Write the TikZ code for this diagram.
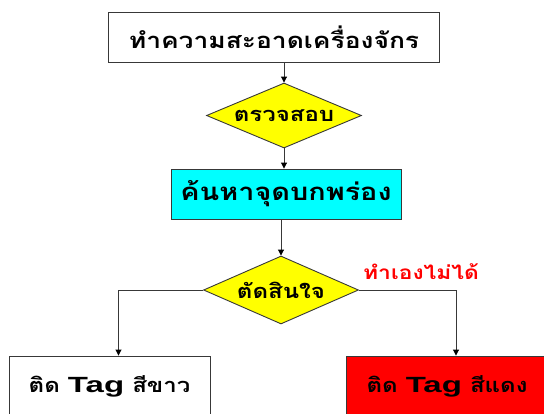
\documentclass[tikz,border=0pt]{standalone}
\usepackage{fontspec}
\usetikzlibrary{shapes.geometric,arrows.meta}
\newfontfamily\thai[Script=Thai,FakeStretch=1.2]{Loma}
\newfontfamily\tagfont[FakeStretch=1.5]{Liberation Sans}
\definecolor{edge}{HTML}{383838}
\definecolor{yel}{HTML}{FFFF00}
\definecolor{aqua}{HTML}{00FFFF}
\definecolor{rd}{HTML}{FF0000}
\tikzset{
  boxnode/.style={draw=edge, line width=0.9pt, rectangle, inner sep=0pt, font=\thai\bfseries\fontsize{22}{26}\selectfont},
  dianode/.style={draw=edge, line width=0.9pt, diamond, fill=yel, inner sep=0pt,
     label={[font=\thai\bfseries\fontsize{20}{24}\selectfont]center:#1}},
  conn/.style={draw=edge, line width=0.9pt, -{Triangle[length=6pt,width=6pt,color=black]}},
  bottomtext/.style={font=\thai\bfseries\fontsize{20}{24}\selectfont}
}
\begin{document}
\begin{tikzpicture}[x=1pt,y=-1pt]
\useasboundingbox (0,0) rectangle (544,413);
\clip (0,0) rectangle (544,413);
\node[boxnode, fill=white, minimum width=331pt, minimum height=50pt, font=\thai\bfseries\fontsize{22}{26}\selectfont] (clean) at (274,37) {ทำความสะอาดเครื่องจักร};
\node[dianode={ตรวจสอบ}, minimum width=155pt, minimum height=65pt] (check) at (284,115.5) {};
\node[boxnode, fill=aqua, minimum width=230pt, minimum height=50pt, font=\thai\bfseries\fontsize{24}{28}\selectfont] (find) at (286,194) {ค้นหาจุดบกพร่อง};
\node[dianode={ตัดสินใจ}, minimum width=155pt, minimum height=68pt] (decide) at (281,290) {};
\node[boxnode, fill=white, minimum width=201pt, minimum height=60pt, bottomtext] (white) at (109.5,386) {ติด {\tagfont\fontsize{22}{25}\selectfont Tag} สีขาว};
\node[boxnode, fill=rd, minimum width=202pt, minimum height=60pt, bottomtext] (redbox) at (447,386) {ติด {\tagfont\fontsize{22}{25}\selectfont Tag} สีแดง};
\node[text=rd, font=\thai\bfseries\fontsize{19}{22}\selectfont, inner sep=0pt] (cant) at (421,272) {ทำเองไม่ได้};
\draw[conn] (clean.south -| check.north) -- (check.north);
\draw[conn] (check.south) -- (find.north -| check.south);
\draw[conn] (find.south -| decide.north) -- (decide.north);
\draw[conn] (decide.west) -| ([xshift=9pt]white.north);
\draw[conn] (decide.east) -| ([xshift=9pt]redbox.north);
\end{tikzpicture}
\end{document}
